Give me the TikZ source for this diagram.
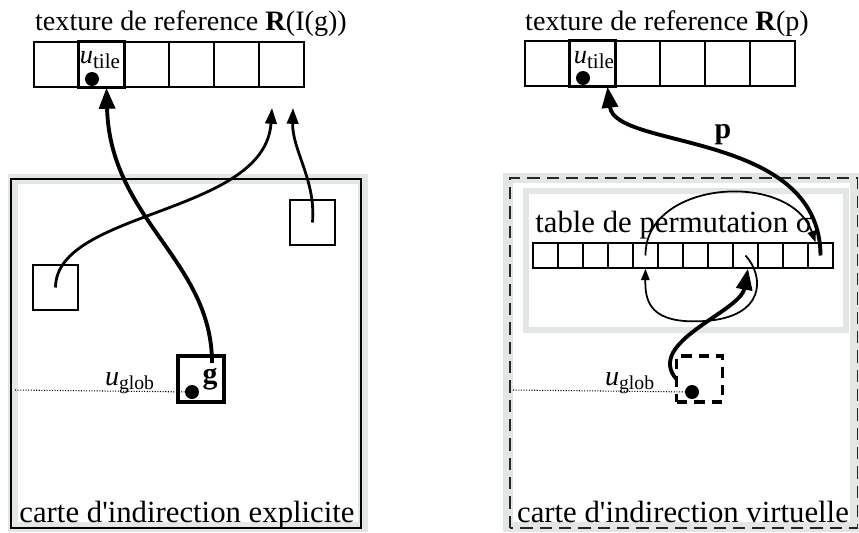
\documentclass[tikz,border=0pt]{standalone}
\usepackage{fontspec}
\setmainfont{Liberation Serif}[Ligatures=TeXOff]
\usetikzlibrary{positioning, arrows.meta}
\definecolor{framegray}{RGB}{226,231,227}

\begin{document}
\begin{tikzpicture}[
        cell/.style={draw, line width=0.8pt, minimum size=0.9cm, inner sep=0pt},
        pcell/.style={draw, line width=0.8pt, minimum size=0.5cm, inner sep=0pt},
        hilite/.style={draw, line width=1.8pt},
        blockbox/.style={draw, line width=0.8pt, minimum size=0.9cm, inner sep=0pt},
        expbox/.style={draw, line width=2pt, minimum size=0.92cm, inner sep=0pt},
        virtbox/.style={draw, line width=2pt, dash pattern=on 6pt off 4pt, minimum size=0.92cm, inner sep=0pt},
        dot/.style={circle, fill, minimum size=0.28cm, inner sep=0pt},
        graybar/.style={draw=framegray, line width=0.2cm},
        guide/.style={line width=0.6pt, dash pattern=on 0.6pt off 0.9pt},
        headtxt/.style={font=\fontsize{16}{18}\selectfont, inner sep=0pt},
        captxt/.style={font=\fontsize{17.5}{20}\selectfont, inner sep=0pt},
        utxt/.style={font=\fontsize{16}{16}\selectfont, inner sep=0pt},
        bigarrow/.style={line width=2.2pt, -{Triangle[length=12pt,width=9pt]}},
        midarrow/.style={line width=1.6pt, -{Triangle[length=9pt,width=6.5pt]}},
        thinarrow/.style={line width=1pt, -{Triangle[length=6.5pt,width=4.8pt]}}
    ]
        \useasboundingbox (0,0) rectangle (17.18,10.64);

        % Frames
        \draw[graybar] (0.26,0.10) rectangle (7.26,7.06);
        \draw[line width=0.7pt] (0.22,0.08) rectangle (7.22,7.06);
        \draw[graybar] (10.16,0.10) rectangle (17.1,7.08);
        \draw[line width=0.7pt, black!85, dash pattern=on 7pt off 4pt] (10.2,0.08) rectangle (17.15,7.08);
        \draw[draw=framegray, line width=0.12cm] (10.52,4.04) rectangle (16.92,6.82);

        % Reference textures
        \foreach \i in {1,...,6} {
            \node[cell] (lt\i) at ({0.23+0.9*\i}, 9.35) {};
            \node[cell] (rt\i) at ({10.05+0.9*\i}, 9.37) {};
        }
        \draw[hilite] (lt2.south west) rectangle (lt2.north east);
        \draw[hilite] (rt2.south west) rectangle (rt2.north east);

        \node[headtxt, anchor=base] (lhead) at (3.82,10.04) {texture de reference \textbf{R}(I(g))};
        \node[headtxt, anchor=base] (rhead) at (13.34,10.04) {texture de reference \textbf{R}(p)};

        \node[inner sep=0pt] (ltile) at (2.0,9.44) {{\fontsize{15}{15}\selectfont\textit{u}}\raisebox{-3pt}{\fontsize{12}{12}\selectfont tile}};
        \node[dot] (ltdot) at (1.84,9.06) {};
        \node[inner sep=0pt] (rtile) at (11.88,9.44) {{\fontsize{15}{15}\selectfont\textit{u}}\raisebox{-3pt}{\fontsize{12}{12}\selectfont tile}};
        \node[dot] (rtdot) at (11.66,9.08) {};

        % Explicit map
        \node[blockbox] (lsq) at (1.11,4.89) {};
        \node[blockbox] (rsq) at (6.25,6.19) {};
        \node[expbox] (gcell) at (4.02,3.06) {};
        \node[dot] (gdot) at (3.84,2.8) {};
        \node[font=\fontsize{17}{17}\selectfont\bfseries, inner sep=0pt] (gname) at (4.2,3.06) {g};
        \node[utxt, anchor=base] (lglob) at (2.6,2.94) {\textit{u}\textsubscript{glob}};
        \coordinate (lfar) at (0.3,2.84);
        \draw[guide] (lfar) -- (gdot);
        \node[captxt, anchor=base] (lcap) at (3.74,0.2) {carte d'indirection explicite};

        \coordinate (tipa) at (5.44,8.48);
        \coordinate (tipb) at (5.86,8.48);
        \draw[bigarrow] ([xshift=2.2mm,yshift=3.2mm]gcell.center) .. controls (4.24,5.44) and (2.2,6.24) .. ([xshift=1mm]lt2.south);
        \draw[midarrow] (lsq.center) .. controls (1.12,6.44) and (5.3,6.34) .. (tipa);
        \draw[midarrow] (rsq.center) .. controls (6.32,7.04) and (5.84,7.64) .. (tipb);

        % Virtual map
        \node[captxt, anchor=base west] (ptitle) at (10.7,6.0) {table de permutation σ};
        \foreach \i in {1,...,12}
            \node[pcell] (p\i) at ({10.41+0.5*\i}, 5.53) {};

        \node[virtbox] (vcell) at (13.99,3.06) {};
        \node[dot] (vdot) at (13.84,2.8) {};
        \node[utxt, anchor=base] (rglob) at (12.6,2.94) {\textit{u}\textsubscript{glob}};
        \coordinate (rfar) at (10.26,2.84);
        \draw[guide] (rfar) -- (vdot);
        \node[captxt, anchor=base] (rcap) at (13.66,0.2) {carte d'indirection virtuelle};

        \draw[bigarrow] ([xshift=0.3mm]vcell.west) .. controls (12.9,3.8) and (14.8,4.4) .. ([xshift=0.5mm]p9.south);
        \draw[thinarrow] (p9.center) .. controls (15.3,5.1) and (15.3,4.3) .. (14.1,4.22) .. controls (13.0,4.15) and (12.9,4.6) .. (p5.south);
        \draw[thinarrow] (p5.center) .. controls (12.9,7.04) and (15.8,7.24) .. ([xshift=-1mm]p12.north);
        \draw[bigarrow] (p12.center) .. controls (16.4,8.04) and (12.3,7.64) .. ([xshift=3mm]rt2.south);
        \node[font=\fontsize{17}{17}\selectfont\bfseries, inner sep=0pt] (plabel) at (14.46,7.94) {p};
    \end{tikzpicture}
\end{document}
